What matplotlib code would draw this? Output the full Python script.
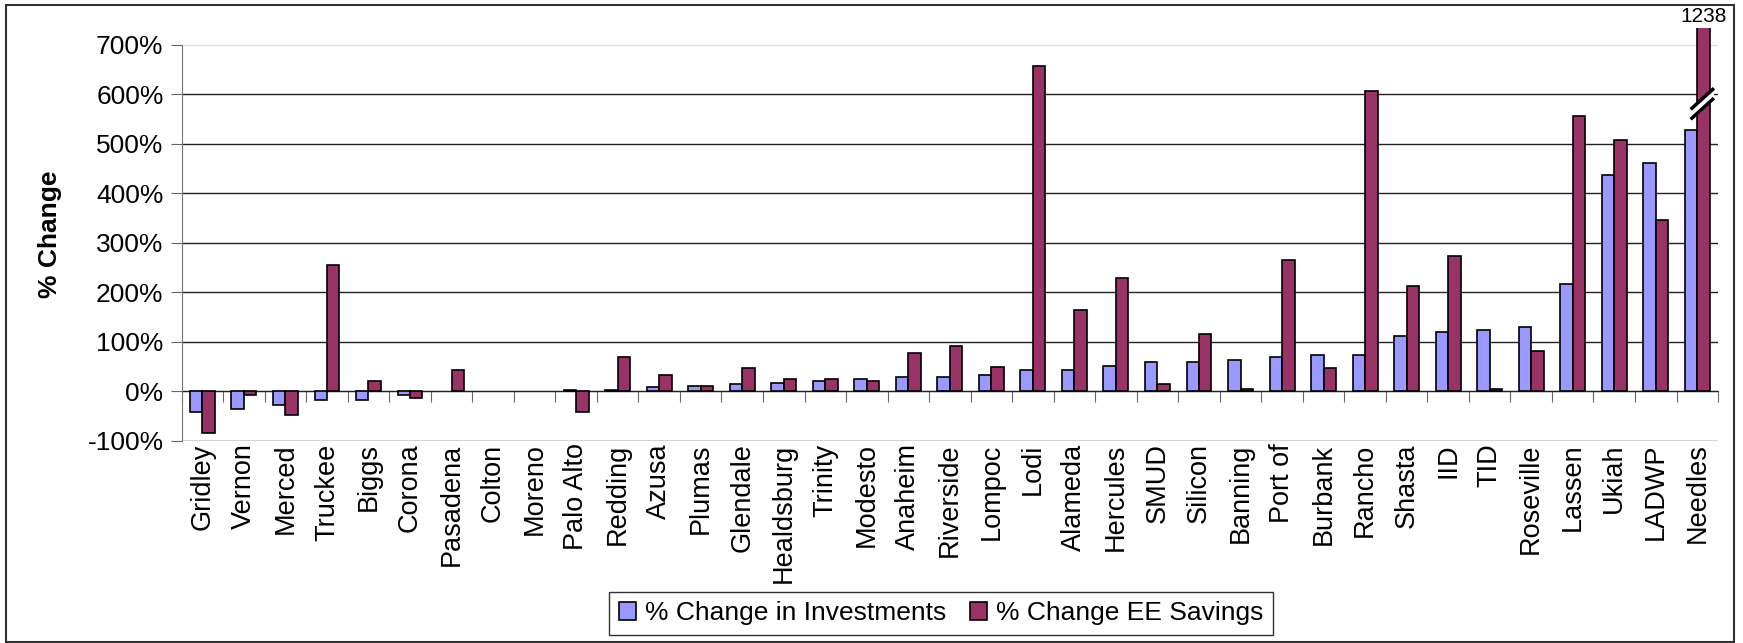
import numpy as np
import matplotlib
matplotlib.use("Agg")
import matplotlib.pyplot as plt
from matplotlib.patches import Rectangle

plt.rcParams['font.family'] = ['Liberation Sans', 'DejaVu Sans']

cities = ["Gridley", "Vernon", "Merced", "Truckee", "Biggs", "Corona", "Pasadena",
          "Colton", "Moreno", "Palo Alto", "Redding", "Azusa", "Plumas", "Glendale",
          "Healdsburg", "Trinity", "Modesto", "Anaheim", "Riverside", "Lompoc", "Lodi",
          "Alameda", "Hercules", "SMUD", "Silicon", "Banning", "Port of", "Burbank",
          "Rancho", "Shasta", "IID", "TID", "Roseville", "Lassen", "Ukiah", "LADWP",
          "Needles"]
invest = [-42, -35, -27, -17, -17, -7, 0, 0, 0, 3, 2, 8, 11, 14, 17, 21, 25, 28, 28,
          32, 42, 42, 52, 60, 60, 64, 70, 74, 74, 112, 119, 123, 130, 217, 438, 462, 528]
savings = [-84, -7, -48, 256, 21, -13, 42, 0, 0, -42, 70, 32, 11, 46, 25, 25, 21, 77, 91,
           49, 658, 165, 228, 14, 116, 4, 266, 46, 606, 213, 273, 4, 81, 556, 507, 346, 1238]

ymin, ymax, ytop = -100, 700, 735
x = np.arange(len(cities))
w = 0.3

fig = plt.figure(figsize=(17.43, 6.43), dpi=100)
ax = fig.add_axes([0.1042, 0.3146, 0.8815, 0.6425])

b1 = ax.bar(x - w/2, invest, w, color="#9999FF", edgecolor="black", linewidth=1.2,
            label="% Change in Investments")
b2 = ax.bar(x + w/2, savings, w, color="#993366", edgecolor="black", linewidth=1.2,
            label="% Change EE Savings")
# no outline for empty values
for bars in (b1, b2):
    for p in bars:
        if p.get_height() == 0:
            p.set_linewidth(0)

ax.set_xlim(-0.5, len(cities) - 0.5)
ax.set_ylim(ymin, ytop)

# y axis
yt = list(range(ymin, ymax + 1, 100))
ax.set_yticks(yt, labels=[f"{v}%" for v in yt], fontsize=19)
ax.yaxis.grid(True, color="#222222", linewidth=1)
ax.get_ygridlines()[-1].set_color("#e0e0e0")
ax.set_axisbelow(True)
ax.tick_params(axis="y", length=8, color="#666666", pad=5)
ax.set_ylabel("% Change", fontsize=19, fontweight="bold", labelpad=18)
for s in ["top", "right", "bottom"]:
    ax.spines[s].set_visible(False)
ax.spines["left"].set_bounds(ymin, ymax)
ax.spines["left"].set_color("#777777")

# category labels at bottom
ax.set_xticks(x, labels=cities, rotation=90, fontsize=19.5)
ax.tick_params(axis="x", length=0, pad=2)

# zero axis with ticks between categories
sec = ax.secondary_xaxis(0, transform=ax.transData)
sec.set_xticks(np.arange(len(cities) + 1) - 0.5, labels=[])
sec.tick_params(length=8, direction="out", color="#666666")
sec.spines["bottom"].set_color("#333333")

# broken bar for the last category
i = len(cities) - 1
xc = i + w/2
ax.text(xc, ytop + 3, str(savings[i]), ha="center", va="bottom", fontsize=15, clip_on=False)
bx = np.array([xc - 0.28, xc + 0.22])
ax.fill_between(bx, [552, 590], [572, 610], color="white", zorder=5)
ax.plot(bx, [552, 590], color="black", lw=2.5, zorder=6)
ax.plot(bx, [572, 610], color="black", lw=2.5, zorder=6)

leg = fig.legend(handles=[b1, b2], loc="center", bbox_to_anchor=(0.54, 0.046),
                 ncol=2, fontsize=19, frameon=True, fancybox=False, edgecolor="black",
                 handlelength=0.65, handleheight=0.65, handletextpad=0.35, columnspacing=0.9,
                 borderpad=0.35)
leg.get_frame().set_linewidth(1)

fig.add_artist(Rectangle((0.0034, 0.002), 0.9914, 0.990, transform=fig.transFigure,
                         fill=False, edgecolor="#333333", linewidth=1.5))

fig.savefig("out.png", dpi=100)
